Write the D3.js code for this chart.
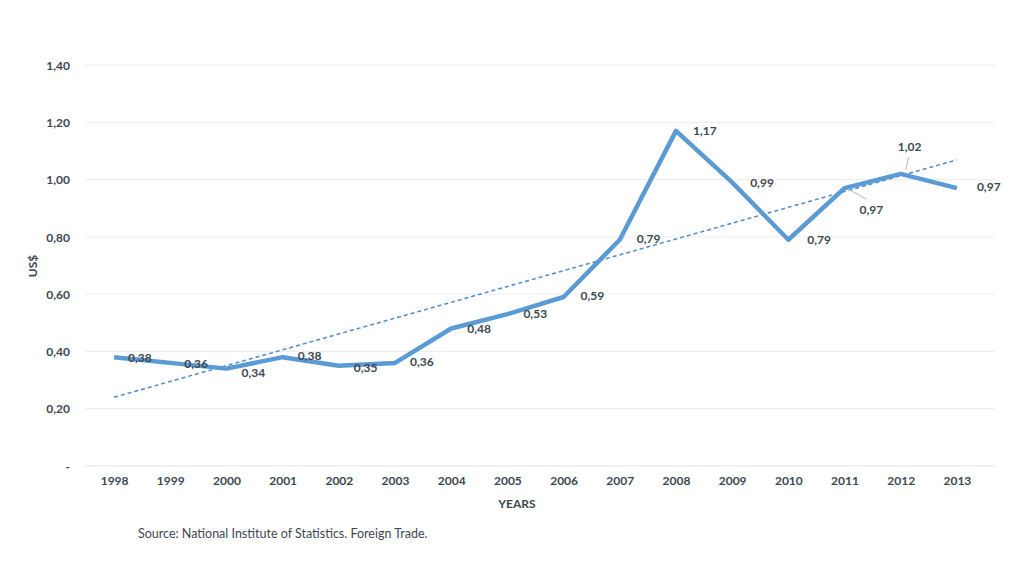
<!DOCTYPE html>
<html>
<head>
<meta charset="utf-8">
<script src="https://cdn.jsdelivr.net/npm/d3@7"></script>
<style>
  html, body { margin: 0; padding: 0; background: #fff; }
  svg { display: block; }
  text { font-family: Lato, "Open Sans", sans-serif; fill: #3e4852; }
</style>
</head>
<body>
<svg id="chart" width="1024" height="565"></svg>
<script>
// ---- data ----
const years = ["1998","1999","2000","2001","2002","2003","2004","2005","2006","2007","2008","2009","2010","2011","2012","2013"];
const values = [0.38,0.36,0.34,0.38,0.35,0.36,0.48,0.53,0.59,0.79,1.17,0.99,0.79,0.97,1.02,0.97];
const yTicks = [0,0.2,0.4,0.6,0.8,1.0,1.2,1.4];
const yTitle = "US$";
const xTitle = "YEARS";
const sourceNote = "Source: National Institute of Statistics. Foreign Trade.";

// label placement (style, not data): offsets from point
const labelOffsets = [
  [14,1],[14,1],[15,4],[15,-1],[15,2],[15,-1],[16,0],[16,0],
  [17,-1],[17,-1],[17,0],[18,0],[19,0],[15,22],[-3,-27],[20,-1]
];
// leader lines for 2011 (index 13) and 2012 (index 14)
const leaders = {13: [[4,1],[22,11]], 14: [[5,-4],[8,-17]]};

const fmt = v => v === 0 ? "-" : d3.format(".2f")(v).replace(".", ",");

const svg = d3.select("#chart");
const x = d3.scalePoint().domain(years).range([86, 985]).padding(0.5);
const y = d3.scaleLinear().domain([0, 1.4]).range([466, 65]);

// gridlines
svg.append("g").selectAll("line").data(yTicks).join("line")
  .attr("x1", 85).attr("x2", 995)
  .attr("y1", d => y(d)).attr("y2", d => y(d))
  .attr("stroke", d => d === 0 ? "#e2e2e2" : "#ededed")
  .attr("stroke-width", 1);

// y axis labels
const yAxis = d3.axisLeft(y).tickValues(yTicks).tickFormat(fmt).tickSize(0).tickPadding(0);
const yg = svg.append("g").attr("transform", "translate(70,0)").call(yAxis);
yg.select(".domain").remove();
yg.selectAll("text").style("font-size", "12px").style("font-weight", "700")
  .attr("fill", "#3e4852").attr("dy", "0.35em");

// x axis labels
const xAxis = d3.axisBottom(x).tickSize(0).tickPadding(0);
const xg = svg.append("g").attr("transform", "translate(0,476)").call(xAxis);
xg.select(".domain").remove();
xg.selectAll("text").style("font-size", "12px").style("font-weight", "700")
  .attr("fill", "#3e4852").attr("dy", "0.71em");

// axis titles
svg.append("text").attr("transform", "translate(37,266) rotate(-90)")
  .attr("text-anchor", "middle").style("font-size", "12px").style("font-weight", "700")
  .text(yTitle);
svg.append("text").attr("x", 517).attr("y", 508)
  .attr("text-anchor", "middle").style("font-size", "12px").style("font-weight", "700")
  .text(xTitle);

// trend line (least squares of the series)
const n = values.length;
const idx = d3.range(n);
const mx = d3.mean(idx), my = d3.mean(values);
const slope = d3.sum(idx, i => (i - mx) * (values[i] - my)) / d3.sum(idx, i => (i - mx) ** 2);
const icpt = my - slope * mx;
svg.append("line")
  .attr("x1", x(years[0])).attr("y1", y(icpt))
  .attr("x2", x(years[n - 1])).attr("y2", y(icpt + slope * (n - 1)))
  .attr("stroke", "#4f8cc9").attr("stroke-width", 1.5)
  .attr("stroke-dasharray", "4,3");

// main line
const line = d3.line().x((d, i) => x(years[i])).y(d => y(d));
svg.append("path").datum(values)
  .attr("d", line).attr("fill", "none")
  .attr("stroke", "#5b9bd5").attr("stroke-width", 4.5)
  .attr("stroke-linejoin", "round").attr("stroke-linecap", "butt");

// leader lines
Object.entries(leaders).forEach(([i, seg]) => {
  const px = x(years[+i]), py = y(values[+i]);
  svg.append("line")
    .attr("x1", px + seg[0][0]).attr("y1", py + seg[0][1])
    .attr("x2", px + seg[1][0]).attr("y2", py + seg[1][1])
    .attr("stroke", "#c4c4c4").attr("stroke-width", 1.2);
});

// data labels
svg.append("g").selectAll("text").data(values).join("text")
  .attr("x", (d, i) => x(years[i]) + labelOffsets[i][0])
  .attr("y", (d, i) => y(d) + labelOffsets[i][1])
  .attr("dy", "0.35em")
  .style("font-size", "12px").style("font-weight", "700")
  .text(d => fmt(d));

// source
svg.append("text").attr("x", 138).attr("y", 538)
  .style("font-size", "12.5px").style("font-weight", "400").attr("fill", "#2a2f35")
  .text(sourceNote);
</script>
</body>
</html>
